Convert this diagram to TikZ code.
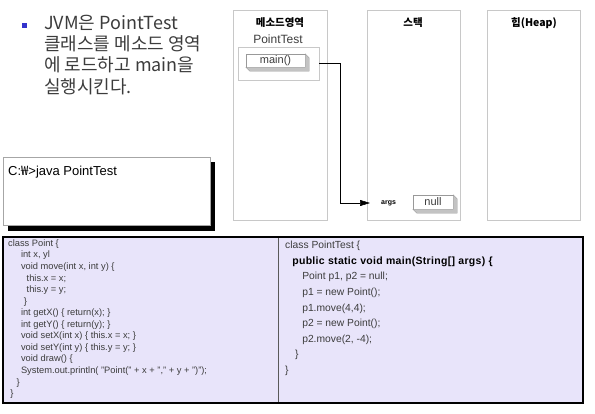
\documentclass[tikz,border=0pt]{standalone}
\usepackage{fontspec}
\setmainfont{Liberation Sans}
\newfontfamily\kr{Noto Sans CJK KR}
\newfontfamily\widesans[LetterSpace=3]{Liberation Sans}
\usetikzlibrary{positioning,arrows.meta}

\definecolor{codebg}{RGB}{232,228,250}
\definecolor{arealine}{RGB}{200,200,200}
\definecolor{textgray}{RGB}{60,60,60}
\definecolor{bulletblue}{RGB}{51,51,204}
\definecolor{depth}{RGB}{195,195,195}

% gray extrusion on the right and bottom of a slot
\newcommand\slotdepth[1]{%
  \filldraw[draw=gray!80, fill=depth, line width=0.4pt]
    (#1.north east) -- ([shift={(4,4)}]#1.north east)
    -- ([shift={(4,4)}]#1.south east) -- ([shift={(4,4)}]#1.south west)
    -- (#1.south west) -- (#1.south east) -- cycle;}

\begin{document}
\begin{tikzpicture}[
    x=1pt, y=-1pt,
    area/.style={draw=arealine, line width=0.7pt},
    areatitle/.style={font=\kr\bfseries\fontsize{10.5}{12}\selectfont, text=black},
    intro/.style={anchor=base west, inner sep=0pt, text=textgray,
      font=\kr\fontsize{18}{21}\selectfont},
    slot/.style={draw=gray!80, fill=white, line width=0.4pt, inner sep=0pt,
      text=textgray, font=\fontsize{11}{12}\selectfont},
    code/.style={anchor=north west, align=left, inner sep=0pt, text=textgray}
]
\useasboundingbox (0,0) rectangle (595,413);

% intro bullet and text
\fill[bulletblue] (22,23) rectangle (27,28);
\foreach \txt [count=\i] in {JVM은 PointTest, 클래스를 메소드 영역,
    에 로드하고 main을, 실행시킨다.}
  \node[intro] (intro\i) at (44, 29+21.4*\i-21.4) {\txt};

% memory areas
\draw[area] (233,10) rectangle (327,220);
\draw[area] (367,10) rectangle (460,220);
\draw[area] (487,10) rectangle (580,220);
\node[areatitle] (methodtitle) at (280,23) {메소드영역};
\node[areatitle] (stacktitle) at (413,23) {스택};
\node[areatitle] (heaptitle) at (534,23) {힙(Heap)};

% class PointTest in the method area
\node[text=textgray, font=\fontsize{12}{13}\selectfont] (ptname) at (278,39) {PointTest};
\node[draw=arealine, line width=0.7pt, minimum width=81pt, minimum height=33pt]
  (ptclass) at (278.5,63.5) {};
\node[slot, minimum width=59pt, minimum height=13pt] (mainslot) at (275.5,60.5) {main()};
\slotdepth{mainslot}

% stack frame of main
\node[slot, minimum width=40pt, minimum height=14pt] (nullslot) at (433,202) {null};
\slotdepth{nullslot}
\node[anchor=west, inner sep=0pt, font=\bfseries\fontsize{7}{8}\selectfont]
  (args) at (381,203) {args};
\draw[-{Triangle[length=10pt,width=6pt]}, line width=0.5pt, shorten >=11pt]
  (ptclass.east) -- ++(21,0) |- (args.west);

% command line window
\fill[black] (8,162) rectangle (215,231);
\node[draw=gray!70, fill=white, line width=0.6pt, minimum width=207pt,
  minimum height=68pt] (cmdbox) at (106.5,191) {};
\node[anchor=west, inner sep=0pt, font=\fontsize{13}{14}\selectfont]
  (cmd) at (8,172) {C:{\kr ₩}>java PointTest};

% source code panels
\fill[codebg] (3,237) rectangle (583,403);
\draw[gray!70!black, line width=0.6pt] (278,237) -- (278,403);
\draw[black, line width=2pt] (3,237) rectangle (583,403);
\node[code, font=\fontsize{9.3}{11.55}\selectfont] (pointcode) at (8,239.5) {%
class Point \{\\
\hspace*{4.5mm}int x, yl\\
\hspace*{4.5mm}void move(int x, int y) \{\\
\hspace*{6.5mm}this.x = x;\\
\hspace*{6.5mm}this.y = y;\\
\hspace*{5.5mm}\}\\
\hspace*{4.5mm}int getX() \{ return(x); \}\\
\hspace*{4.5mm}int getY() \{ return(y); \}\\
\hspace*{4.5mm}void setX(int x) \{ this.x = x; \}\\
\hspace*{4.5mm}void setY(int y) \{ this.y = y; \}\\
\hspace*{4.5mm}void draw() \{\\
\hspace*{4.5mm}System.out.println( "Point(" + x + "," + y + ")");\\
\hspace*{3mm}\}\\
\hspace*{0.8mm}\}};
\node[code, font=\fontsize{10.3}{15.6}\selectfont] (testcode) at (285,241) {%
class PointTest \{\\
\hspace*{2.5mm}{\color{black}\widesans\bfseries\fontsize{10.5}{15.6}\selectfont
  public static void main(String[] args) \{}\\
\hspace*{6mm}Point p1, p2 = null;\\
\hspace*{6mm}p1 = new Point();\\
\hspace*{6mm}p1.move(4,4);\\
\hspace*{6mm}p2 = new Point();\\
\hspace*{6mm}p2.move(2, -4);\\
\hspace*{3.5mm}\}\\
\}};

\end{tikzpicture}
\end{document}
